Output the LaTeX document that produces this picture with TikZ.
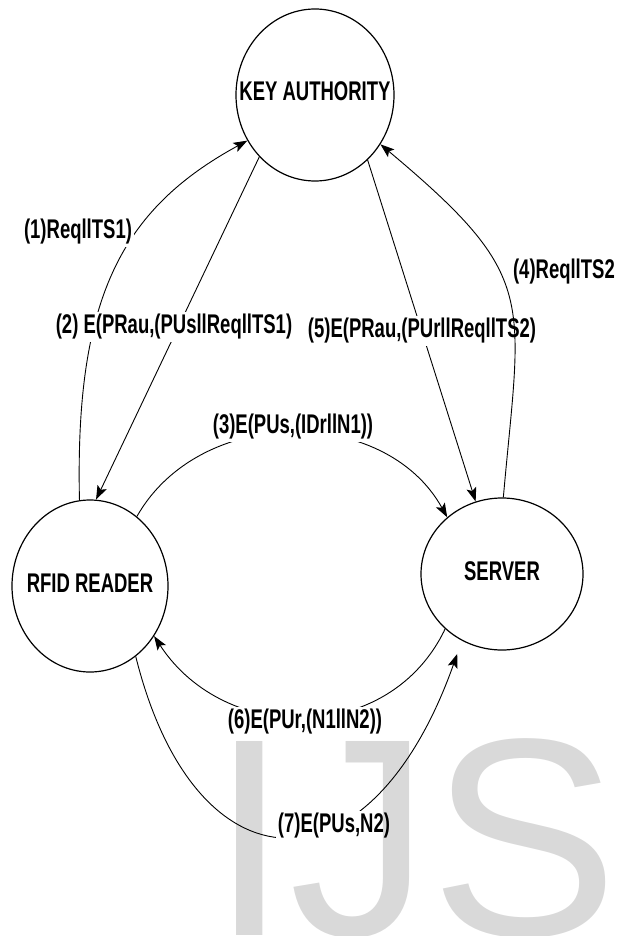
\documentclass[tikz,border=0pt]{standalone}
\usepackage{fontspec}
\setmainfont{Liberation Sans}
\newfontfamily\lblfont{Liberation Sans}[FakeStretch=0.685]
\newfontfamily\markfont{Liberation Sans}
\usetikzlibrary{shapes.geometric,arrows.meta}

\tikzset{
  station/.style={ellipse, draw=black, line width=1.2pt, inner sep=0pt,
    font=\lblfont\bfseries\fontsize{27}{27}\selectfont},
  msg/.style={fill=white, inner sep=2pt,
    font=\lblfont\bfseries\fontsize{27}{27}\selectfont},
  flow/.style={draw=black, line width=0.9pt,
    -{Stealth[length=14pt,width=10pt,inset=3pt]}},
  watermark/.style={anchor=base west, inner sep=0pt, text=black, text opacity=0.15,
    font=\markfont\fontsize{282}{282}\selectfont},
}
% centred text of zero size, so the ellipse keeps its own dimensions
\newcommand\inside[1]{\raisebox{-6pt}[0pt][0pt]{\makebox[0pt]{#1}}}

\begin{document}
\begin{tikzpicture}[x=1pt,y=-1pt]
\useasboundingbox (0,0) rectangle (616,936);
\clip (0,0) rectangle (616,936);

% parties
\node[station, minimum width=158pt, minimum height=172pt] (ka)   at (315,95)  {\inside{KEY AUTHORITY}};
\node[station, minimum width=156pt, minimum height=172pt] (rfid) at (90,586)  {\inside{RFID READER}};
\node[station, minimum width=162pt, minimum height=152pt] (srv)  at (502,574) {\inside{SERVER}};

% (1) reader -> key authority
\draw[flow] (rfid.97) .. controls (75,300) and (120,210) .. (ka.214);
\node[msg] (m1) at (78,232) {(1)ReqllTS1)};

% (2) key authority -> reader
\draw[flow] (ka.228) -- (rfid.86);
\node[msg] (m2) at (174,327) {(2) E(PRau,(PUsllReqllTS1)};

% (5) key authority -> server
\draw[flow] (ka.309) -- (srv.110);
\node[msg] (m5) at (422,331) {(5)E(PRau,(PUrllReqllTS2)};

% (4) server -> key authority
\draw[flow] (srv.89) .. controls (521,297) and (540,278) .. (ka.-37);
\node[msg, anchor=east] (m4) at (617,272) {(4)ReqllTS2};

% (3) reader -> server
\draw[flow] (rfid.56) .. controls (200,405) and (385,405) .. (srv.134);
\node[msg] (m3) at (293,427) {(3)E(PUs,(IDrllN1))};

% (6) server -> reader
\draw[flow] (srv.224) .. controls (390,745) and (225,745) .. (rfid.-38);
\node[msg] (m6) at (305,722) {(6)E(PUr,(N1llN2))};

% (7) reader -> server
\draw[flow, shorten >=14pt] (rfid.-57) .. controls (195,895) and (370,900) .. (srv.239);
\node[msg] (m7) at (334,826) {(7)E(PUs,N2)};

% journal mark laid over the figure
\node[watermark] (wm) at (210.5,935) {IJS};
\end{tikzpicture}
\end{document}
